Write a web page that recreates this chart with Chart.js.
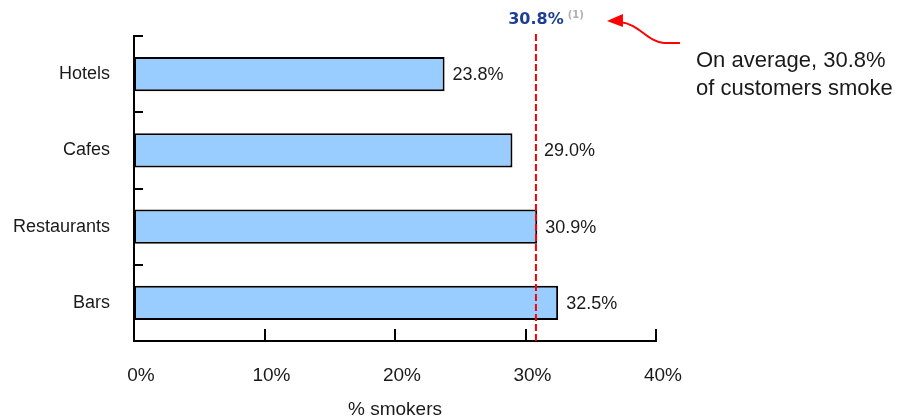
<!DOCTYPE html>
<html>
<head>
<meta charset="utf-8">
<script src="https://cdn.jsdelivr.net/npm/chart.js@4.4.1/dist/chart.umd.min.js"></script>
<style>
  html, body { margin: 0; padding: 0; background: #fff; }
  #wrap { width: 897px; height: 418px; }
</style>
</head>
<body>
<div id="wrap"><canvas id="smokeChart"></canvas></div>
<script>
const venues = ['Hotels', 'Cafes', 'Restaurants', 'Bars'];
const smokerShare = [23.8, 29.0, 30.9, 32.5];
const averageShare = 30.8;
const axisMax = 40;
const axisStep = 10;
const averageNote = ['On average, 30.8%', 'of customers smoke'];
const footnoteMark = '(1)';

const FONT = '"Liberation Sans", Arial, sans-serif';
const BOLD_FONT = '"DejaVu Sans", Verdana, sans-serif';
const TEXT = '#1a1a1a';

// ticks, value labels, average line and the callout
const decorPlugin = {
    id: 'decor',
    afterDraw(chart) {
        const ctx = chart.ctx;
        const area = chart.chartArea;
        const xs = chart.scales.x;
        const ax = xs.getPixelForValue(averageShare);
        ctx.save();

        // inner tick marks on both axes
        ctx.strokeStyle = '#000';
        ctx.lineWidth = 2;
        const step = (area.bottom - area.top) / venues.length;
        for (let i = 0; i < venues.length; i++) {
            const y = Math.round(area.top + i * step);
            ctx.beginPath();
            ctx.moveTo(area.left, y);
            ctx.lineTo(area.left + 9, y);
            ctx.stroke();
        }
        for (let v = axisStep; v <= axisMax; v += axisStep) {
            const x = Math.round(xs.getPixelForValue(v));
            ctx.beginPath();
            ctx.moveTo(x, area.bottom);
            ctx.lineTo(x, area.bottom - 12);
            ctx.stroke();
        }

        // value labels at the end of each bar, kept clear of the average line
        const meta = chart.getDatasetMeta(0);
        ctx.font = '18px ' + FONT;
        ctx.fillStyle = TEXT;
        ctx.textAlign = 'left';
        ctx.textBaseline = 'middle';
        meta.data.forEach((bar, i) => {
            let x = bar.x + 8;
            if (x < ax + 6 && bar.x + 60 > ax) x = Math.max(bar.x, ax) + 8;
            ctx.fillText(smokerShare[i].toFixed(1) + '%', x, bar.y + 1);
        });

        // average line
        ctx.strokeStyle = '#ff0000';
        ctx.lineWidth = 2;
        ctx.setLineDash([7, 3]);
        ctx.beginPath();
        ctx.moveTo(ax, area.top - 2);
        ctx.lineTo(ax, area.bottom);
        ctx.stroke();
        ctx.setLineDash([]);

        // average value above the line
        const avgText = averageShare.toFixed(1) + '%';
        ctx.font = 'bold 16px ' + BOLD_FONT;
        ctx.fillStyle = '#1c3f94';
        ctx.textAlign = 'center';
        ctx.fillText(avgText, ax, area.top - 16);
        const labelW = ctx.measureText(avgText).width;
        ctx.font = 'bold 10px ' + BOLD_FONT;
        ctx.fillStyle = '#b0b0b0';
        ctx.textAlign = 'left';
        ctx.fillText(footnoteMark, ax + labelW / 2 + 4, area.top - 21);

        // curved arrow pointing at the value
        const tipX = ax + 71, tipY = area.top - 15;
        ctx.strokeStyle = '#ff0000';
        ctx.fillStyle = '#ff0000';
        ctx.lineWidth = 2;
        ctx.beginPath();
        ctx.moveTo(ax + 144, area.top + 7);
        ctx.lineTo(ax + 128, area.top + 7);
        ctx.bezierCurveTo(ax + 110, area.top + 5, ax + 104, area.top - 12, ax + 84, area.top - 14);
        ctx.stroke();
        ctx.beginPath();
        ctx.moveTo(tipX, tipY);
        ctx.lineTo(tipX + 16, tipY - 7);
        ctx.lineTo(tipX + 16, tipY + 6);
        ctx.closePath();
        ctx.fill();

        // callout text
        ctx.font = '22px ' + FONT;
        ctx.fillStyle = TEXT;
        ctx.textAlign = 'left';
        ctx.fillText(averageNote[0], area.right + 40, area.top + 25);
        ctx.fillText(averageNote[1], area.right + 40, area.top + 53);

        ctx.restore();
    }
};

new Chart(document.getElementById('smokeChart'), {
    type: 'bar',
    data: {
        labels: venues,
        datasets: [{
            data: smokerShare,
            backgroundColor: '#99ccff',
            borderColor: '#000',
            borderWidth: 2,
            borderSkipped: false,
            barPercentage: 0.45,
            categoryPercentage: 1
        }]
    },
    options: {
        indexAxis: 'y',
        responsive: true,
        maintainAspectRatio: false,
        animation: false,
        layout: { padding: { top: 36, right: 241, left: 0, bottom: -3 } },
        plugins: {
            legend: { display: false },
            tooltip: { enabled: false }
        },
        scales: {
            x: {
                type: 'linear',
                min: 0,
                max: axisMax,
                grid: { display: false, drawTicks: false },
                border: { display: true, color: '#000', width: 2 },
                ticks: {
                    stepSize: axisStep,
                    padding: 23,
                    labelOffset: 7,
                    color: TEXT,
                    font: { family: FONT, size: 19 },
                    callback: v => v + '%'
                },
                title: {
                    display: true,
                    text: '% smokers',
                    color: TEXT,
                    font: { family: FONT, size: 19 },
                    padding: { top: 0, bottom: 0 }
                },
                afterFit: s => { s.height = 80; }
            },
            y: {
                grid: { display: false, drawTicks: false },
                border: { display: true, color: '#000', width: 2 },
                ticks: {
                    padding: 24,
                    color: TEXT,
                    font: { family: FONT, size: 18 }
                },
                afterFit: s => { s.width = 134; }
            }
        }
    },
    plugins: [decorPlugin]
});
</script>
</body>
</html>
